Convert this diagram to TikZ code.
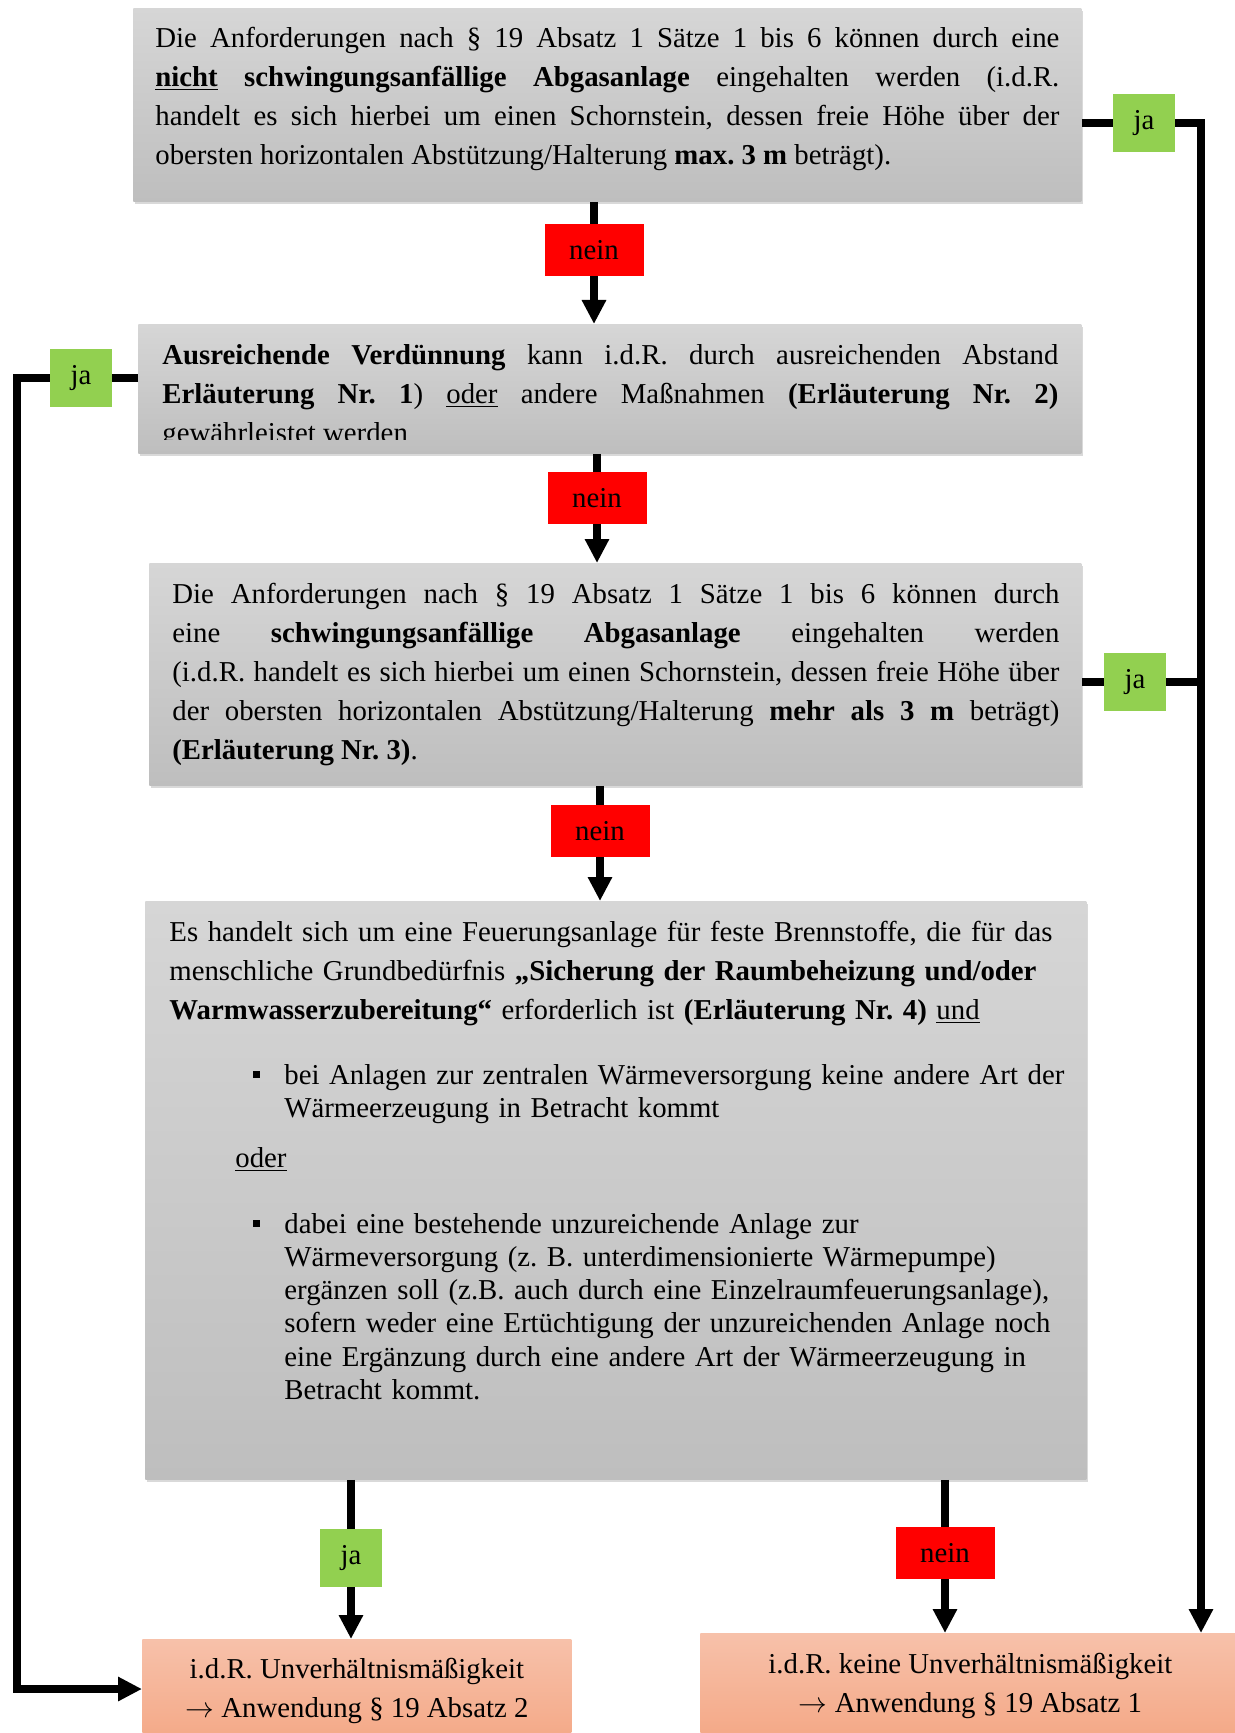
\documentclass[tikz,border=0pt]{standalone}
\usepackage{fontspec}
\setmainfont{Liberation Serif}
\usetikzlibrary{arrows.meta, positioning, calc, shadows}
\definecolor{boxtop}{RGB}{214, 214, 214}
\definecolor{boxbot}{RGB}{190, 190, 190}
\definecolor{jagreen}{RGB}{146, 208, 80}
\definecolor{neinred}{RGB}{255, 0, 0}
\definecolor{restop}{RGB}{247, 193, 170}
\definecolor{resbot}{RGB}{244, 168, 134}
\newcommand{\mainfs}{\fontsize{14.4}{19.5}\selectfont}
\newcommand{\listfs}{\fontsize{14.4}{16.6}\selectfont}
\frenchspacing

\begin{document}
\begin{tikzpicture}[x=0.5pt, y=-0.5pt,
  gbox/.style={rectangle, top color=boxtop, bottom color=boxbot, anchor=north west, inner sep=0pt,
    drop shadow={shadow xshift=1pt, shadow yshift=-1.5pt, opacity=0.3}},
  rbox/.style={rectangle, top color=restop, bottom color=resbot, anchor=north west, align=center, inner sep=0pt, font=\mainfs},
  txt/.style={anchor=north west, inner sep=0pt, align=justify, font=\mainfs},
  lab/.style={minimum width=31pt, minimum height=29pt, inner sep=0pt, font=\mainfs},
  jabox/.style={lab, fill=jagreen},
  neinbox/.style={lab, fill=neinred, minimum width=49.5pt, minimum height=26pt},
  sqbullet/.style={fill=black, minimum size=3.5pt, inner sep=0pt},
  conn/.style={line width=3.6pt},
  arr/.style={conn, -{Triangle[width=11.5pt,length=12pt]}}
]
  \useasboundingbox (0,0) rectangle (1235,1733);
  \clip (0,0) rectangle (1235,1733);

  % decision boxes
  \node[gbox, minimum width=474pt, minimum height=96.5pt] (b1) at (133,8) {};
  \node[txt, text width=452pt] (t1) at (155,27) {Die Anforderungen nach § 19 Absatz 1 Sätze 1 bis 6 können durch eine\linebreak
    \underline{\textbf{nicht}} \textbf{schwingungsanfällige Abgasanlage} eingehalten werden (i.d.R.\linebreak
    handelt es sich hierbei um einen Schornstein, dessen freie Höhe über der\linebreak
    obersten horizontalen Abstützung/Halterung \textbf{max. 3 m} beträgt).};

  \node[gbox, minimum width=471.5pt, minimum height=64.5pt] (b2) at (138,324) {};
  \begin{scope}
    \clip (b2.north west) rectangle ($(b2.south east)+(0,-14)$);
    \node[txt, text width=448pt] (t2) at (162,344) {\textbf{Ausreichende Verdünnung} kann i.d.R. durch ausreichenden Abstand\linebreak
      \textbf{Erläuterung Nr. 1}) \underline{oder} andere Maßnahmen \textbf{(Erläuterung Nr. 2)}\linebreak
      gewährleistet werden};
  \end{scope}

  \node[gbox, minimum width=466pt, minimum height=111pt] (b3) at (149,563) {};
  \node[txt, text width=443.5pt] (t3) at (172,583) {Die Anforderungen nach § 19 Absatz 1 Sätze 1 bis 6 können durch\linebreak
    eine \textbf{schwingungsanfällige Abgasanlage} eingehalten werden\linebreak
    (i.d.R. handelt es sich hierbei um einen Schornstein, dessen freie Höhe über\linebreak
    der obersten horizontalen Abstützung/Halterung \textbf{mehr als 3 m} beträgt)\linebreak
    \textbf{(Erläuterung Nr. 3)}.};

  \node[gbox, minimum width=470.5pt, minimum height=289pt] (b4) at (145,901) {};
  \node[txt, align=left, text width=460pt] (t4) at (169,921) {Es handelt sich um eine Feuerungsanlage für feste Brennstoffe, die für das\\
    menschliche Grundbedürfnis \textbf{„Sicherung der Raumbeheizung und/oder}\\
    \textbf{Warmwasserzubereitung“} erforderlich ist \textbf{(Erläuterung Nr. 4)} \underline{und}};
  \node[sqbullet] (q1) at (256,1074) {};
  \node[txt, align=left, text width=420pt, font=\listfs] (t5) at (284,1064) {bei Anlagen zur zentralen Wärmeversorgung keine andere Art der\\
    Wärmeerzeugung in Betracht kommt};
  \node[txt] (t6) at (235,1147) {\underline{oder}};
  \node[sqbullet] (q2) at (256,1223) {};
  \node[txt, align=left, text width=420pt, font=\listfs] (t7) at (284,1213) {dabei eine bestehende unzureichende Anlage zur\\
    Wärmeversorgung (z. B. unterdimensionierte Wärmepumpe)\\
    ergänzen soll (z.B. auch durch eine Einzelraumfeuerungsanlage),\\
    sofern weder eine Ertüchtigung der unzureichenden Anlage noch\\
    eine Ergänzung durch eine andere Art der Wärmeerzeugung in\\
    Betracht kommt.};

  % results
  \node[rbox, minimum width=214.5pt, minimum height=52pt] (b5) at (142,1639) {i.d.R. Unverhältnismäßigkeit\\ $\rightarrow$ Anwendung § 19 Absatz 2};
  \node[rbox, minimum width=270pt, minimum height=53pt] (b6) at (700,1633) {i.d.R. keine Unverhältnismäßigkeit\\ $\rightarrow$ Anwendung § 19 Absatz 1};

  % ja / nein labels
  \node[jabox] (j1) at (1144,123) {ja};
  \node[neinbox] (n1) at (594,250) {nein};
  \node[jabox] (j2) at (81,378) {ja};
  \node[neinbox] (n2) at (597,498) {nein};
  \node[jabox] (j3) at (1135,682) {ja};
  \node[neinbox] (n3) at (600,831) {nein};
  \node[jabox] (j4) at (351,1558) {ja};
  \node[neinbox] (n4) at (945,1553) {nein};

  \coordinate (rt) at (1201,1633);
  \coordinate (lb) at (17,1689);

  % connectors
  \draw[conn] (b1.south -| n1) -- (n1.north);
  \draw[arr] (n1.south) -- (n1 |- b2.north);
  \draw[conn] (b1.east |- j1) -- (j1.west);
  \draw[arr] (j1.east) -| (rt);
  \draw[conn] (b2.west |- j2) -- (j2.east);
  \draw[arr] (j2.west) -| (lb) -- (lb -| b5.west);
  \draw[conn] (b2.south -| n2) -- (n2.north);
  \draw[arr] (n2.south) -- (n2 |- b3.north);
  \draw[conn] (b3.east |- j3) -- (j3.west);
  \draw[conn] (j3.east) -- (j3 -| rt);
  \draw[conn] (b3.south -| n3) -- (n3.north);
  \draw[arr] (n3.south) -- (n3 |- b4.north);
  \draw[conn] (b4.south -| j4) -- (j4.north);
  \draw[arr] (j4.south) -- (j4 |- b5.north);
  \draw[conn] (b4.south -| n4) -- (n4.north);
  \draw[arr] (n4.south) -- (n4 |- b6.north);
\end{tikzpicture}
\end{document}
